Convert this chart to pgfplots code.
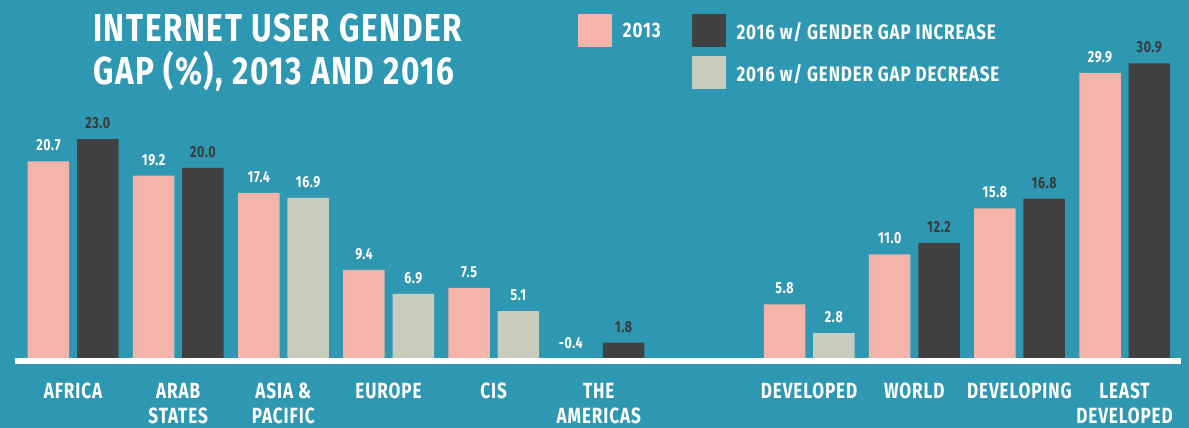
\documentclass[border=0pt]{standalone}
\usepackage{pgfplots}
\pgfplotsset{compat=1.18}
\usepackage{fontspec}
\setmainfont{Fira Sans}
\newfontfamily\cf[FakeStretch=0.78,LetterSpace=4]{Fira Sans}
\newfontfamily\cfw[FakeStretch=0.81,LetterSpace=4]{Fira Sans}
\definecolor{bg}{HTML}{2E97B2}
\definecolor{pinkc}{HTML}{F5B4AA}
\definecolor{darkc}{HTML}{414141}
\definecolor{grayc}{HTML}{C8CCBD}
\definecolor{darklab}{HTML}{3A3A3A}
\newcommand\titlefont{\cfw\bfseries\fontsize{39}{43}\selectfont}
\newcommand\legfont{\cfw\bfseries\fontsize{21}{24}\selectfont}
\newcommand\catfont{\cf\bfseries\fontsize{22}{25}\selectfont}
\newcommand\valfont{\cf\bfseries\fontsize{16}{18}\selectfont}
\begin{document}
\begin{tikzpicture}
\begin{axis}[
  scale only axis, width=1189pt, height=428pt,
  xmin=-0.6942, xmax=10.613, ymin=-7.0833, ymax=37.5,
  axis background/.style={fill=bg},
  axis line style={draw=none},
  tick style={draw=none},
  major tick length=0pt,
  ytick=\empty,
  xtick={0,1,2,3,4,5,7,8,9,10},
  xticklabels={AFRICA, ARAB\\STATES, ASIA \&\\PACIFIC, EUROPE, CIS, THE\\AMERICAS, DEVELOPED, WORLD, DEVELOPING, LEAST\\DEVELOPED},
  xticklabel style={font=\catfont, text=white, align=center, anchor=north, inner sep=0pt, yshift=45pt},
  clip=false,
  nodes near coords={\pgfmathprintnumber[fixed,fixed zerofill,precision=1,assume math mode=true]{\pgfplotspointmeta}},
  every node near coord/.append style={font=\valfont, inner sep=0pt, yshift=10pt},
  legend style={at={(rel axis cs:0.4861,0.9673)}, anchor=north west, draw=none, fill=none,
    inner sep=0pt, outer sep=0pt, font=\legfont, text=white, row sep=9pt,
    nodes={inner sep=0pt},
    /tikz/every odd column/.append style={column sep=11pt},
    /tikz/every even column/.append style={column sep=31pt}},
  legend columns=2,
  legend cell align=left,
]
\addplot[ybar, bar width=41.5pt, bar shift=-24.5pt, fill=pinkc, draw=none,
  every node near coord/.append style={text=white, xshift=-24.5pt},
  legend image code/.code={\fill[pinkc] (0pt,-15.7pt) rectangle (34pt,17.3pt);}]
  coordinates {(0,20.7) (1,19.2) (2,17.4) (3,9.4) (4,7.5) (7,5.8) (8,11.0) (9,15.8) (10,29.9)};
\addlegendentry{2013}
\addplot[ybar, bar width=41.5pt, bar shift=24.8pt, fill=darkc, draw=none,
  every node near coord/.append style={text=darklab, xshift=24.8pt},
  legend image code/.code={\fill[darkc] (0pt,-15.7pt) rectangle (34pt,17.3pt);}]
  coordinates {(0,23.0) (1,20.0) (5,1.8) (8,12.2) (9,16.8) (10,30.9)};
\addlegendentry{2016 w/ GENDER GAP INCREASE}
\addlegendimage{empty legend}
\addlegendentry{}
\addplot[ybar, bar width=41.5pt, bar shift=24.8pt, fill=grayc, draw=none,
  every node near coord/.append style={text=white, xshift=24.8pt},
  legend image code/.code={\fill[grayc] (0pt,-15.7pt) rectangle (34pt,17.3pt);}]
  coordinates {(2,16.9) (3,6.9) (4,5.1) (7,2.8)};
\addlegendentry{2016 w/ GENDER GAP DECREASE}
% The Americas 2013: -0.4 (bar hidden under the baseline) and its label
\addplot[forget plot, ybar, bar width=41.5pt, bar shift=-24.5pt, fill=pinkc, draw=none, nodes near coords=]
  coordinates {(5,-0.4)};
\addplot[forget plot, ybar, bar width=41.5pt, bar shift=-24.5pt, fill=none, draw=none,
  point meta=explicit symbolic, nodes near coords={\pgfplotspointmeta},
  every node near coord/.append style={text=white, anchor=south, yshift=1pt, xshift=-28pt}]
  coordinates {(5,0) [-0.4]};
\draw[white, line width=5.8pt] (axis cs:-0.548,-0.094) -- (axis cs:10.538,-0.094);
\node[anchor=north west, inner sep=0pt, font=\titlefont, text=white, align=left]
  at (rel axis cs:0.0782,0.9673) {INTERNET USER GENDER\\GAP (\%), 2013 AND 2016};
\end{axis}
\end{tikzpicture}
\end{document}
